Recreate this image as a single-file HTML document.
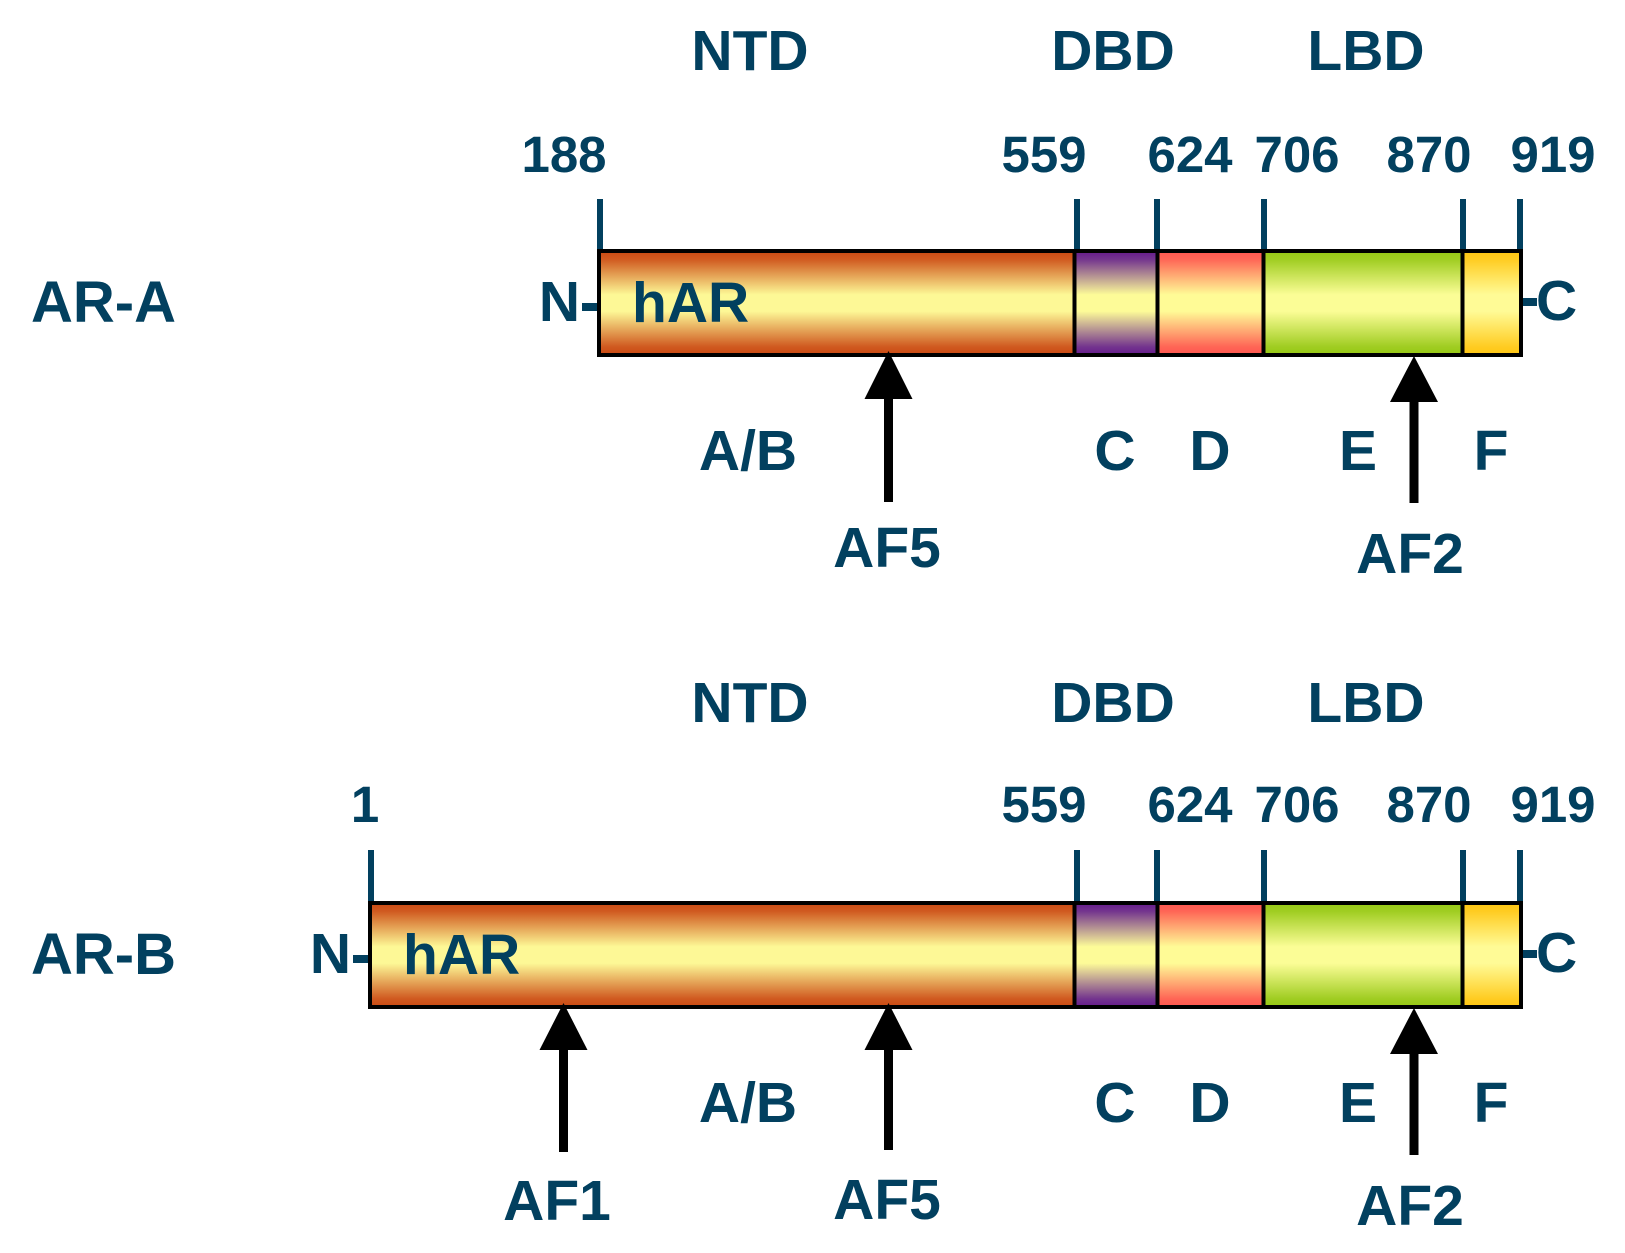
<!DOCTYPE html>
<html>
<head>
<meta charset="utf-8">
<style>
  html,body{margin:0;padding:0;background:#fff;}
  svg{display:block;}
  text{font-family:"Liberation Sans",Arial,sans-serif;font-weight:bold;fill:#02405F;}
</style>
</head>
<body>
<svg width="1625" height="1253" viewBox="0 0 1625 1253" xmlns="http://www.w3.org/2000/svg">
  <defs>
    <linearGradient id="gN" x1="0" y1="0" x2="0" y2="1">
      <stop offset="0" stop-color="#C94812"/>
      <stop offset="0.08" stop-color="#D05A20"/>
      <stop offset="0.42" stop-color="#FDF896"/>
      <stop offset="0.58" stop-color="#FDF896"/>
      <stop offset="0.92" stop-color="#D05A20"/>
      <stop offset="1" stop-color="#C94812"/>
    </linearGradient>
    <linearGradient id="gC" x1="0" y1="0" x2="0" y2="1">
      <stop offset="0" stop-color="#651A8C"/>
      <stop offset="0.08" stop-color="#74358E"/>
      <stop offset="0.42" stop-color="#FDFB98"/>
      <stop offset="0.58" stop-color="#FDFB98"/>
      <stop offset="0.92" stop-color="#74358E"/>
      <stop offset="1" stop-color="#651A8C"/>
    </linearGradient>
    <linearGradient id="gD" x1="0" y1="0" x2="0" y2="1">
      <stop offset="0" stop-color="#FF5650"/>
      <stop offset="0.08" stop-color="#FF6656"/>
      <stop offset="0.42" stop-color="#FFFB96"/>
      <stop offset="0.58" stop-color="#FFFB96"/>
      <stop offset="0.92" stop-color="#FF6656"/>
      <stop offset="1" stop-color="#FF5650"/>
    </linearGradient>
    <linearGradient id="gE" x1="0" y1="0" x2="0" y2="1">
      <stop offset="0" stop-color="#96C814"/>
      <stop offset="0.08" stop-color="#A0CD22"/>
      <stop offset="0.42" stop-color="#FBFD96"/>
      <stop offset="0.58" stop-color="#FBFD96"/>
      <stop offset="0.92" stop-color="#A0CD22"/>
      <stop offset="1" stop-color="#96C814"/>
    </linearGradient>
    <linearGradient id="gF" x1="0" y1="0" x2="0" y2="1">
      <stop offset="0" stop-color="#FFC612"/>
      <stop offset="0.08" stop-color="#FFCC22"/>
      <stop offset="0.42" stop-color="#FFFB96"/>
      <stop offset="0.58" stop-color="#FFFB96"/>
      <stop offset="0.92" stop-color="#FFCC22"/>
      <stop offset="1" stop-color="#FFC612"/>
    </linearGradient>
  </defs>

  <!-- ================= AR-A ================= -->
  <g>
    <text x="750" y="70" font-size="57" text-anchor="middle">NTD</text>
    <text x="1113" y="70" font-size="57" text-anchor="middle">DBD</text>
    <text x="1366" y="70" font-size="57" text-anchor="middle">LBD</text>

    <text x="564" y="172" font-size="51" text-anchor="middle">188</text>
    <text x="1044" y="172" font-size="51" text-anchor="middle">559</text>
    <text x="1190" y="172" font-size="51" text-anchor="middle">624</text>
    <text x="1297" y="172" font-size="51" text-anchor="middle">706</text>
    <text x="1429" y="172" font-size="51" text-anchor="middle">870</text>
    <text x="1553" y="172" font-size="51" text-anchor="middle">919</text>

    <g fill="#02405F">
      <rect x="597" y="199" width="6" height="52"/>
      <rect x="1074" y="199" width="6" height="52"/>
      <rect x="1154" y="199" width="6" height="52"/>
      <rect x="1261" y="199" width="6" height="52"/>
      <rect x="1460" y="199" width="6" height="52"/>
      <rect x="1517" y="199" width="6" height="52"/>
    </g>

    <rect x="599" y="251" width="476" height="104" fill="url(#gN)"/>
    <rect x="1074.5" y="251" width="83" height="104" fill="url(#gC)"/>
    <rect x="1157.5" y="251" width="106" height="104" fill="url(#gD)"/>
    <rect x="1263.5" y="251" width="199" height="104" fill="url(#gE)"/>
    <rect x="1462.5" y="251" width="58.5" height="104" fill="url(#gF)"/>
    <rect x="599" y="251" width="922" height="104" fill="none" stroke="#000" stroke-width="4"/>
    <g stroke="#000" stroke-width="4">
      <line x1="1074.5" y1="251" x2="1074.5" y2="355"/>
      <line x1="1157.5" y1="251" x2="1157.5" y2="355"/>
      <line x1="1263.5" y1="251" x2="1263.5" y2="355"/>
      <line x1="1462.5" y1="251" x2="1462.5" y2="355"/>
    </g>

    <text x="31" y="322" font-size="58">AR-A</text>
    <text x="580" y="321" font-size="57" text-anchor="end">N</text>
    <rect x="582" y="303" width="15" height="8" fill="#02405F"/>
    <text x="632" y="322" font-size="57">hAR</text>
    <rect x="1523" y="298" width="14" height="8" fill="#02405F"/>
    <text x="1536" y="320" font-size="57">C</text>

    <text x="748" y="470" font-size="57" text-anchor="middle">A/B</text>
    <text x="1115" y="470" font-size="57" text-anchor="middle">C</text>
    <text x="1210" y="470" font-size="57" text-anchor="middle">D</text>
    <text x="1358" y="470" font-size="57" text-anchor="middle">E</text>
    <text x="1491" y="470" font-size="57" text-anchor="middle">F</text>

    <polygon points="888.5,351 864.5,399 912.5,399" fill="#000"/>
    <rect x="884" y="398" width="9" height="104" fill="#000"/>
    <polygon points="1414,356 1390,402 1438,402" fill="#000"/>
    <rect x="1409.5" y="401" width="9" height="102" fill="#000"/>

    <text x="887" y="567" font-size="57" text-anchor="middle">AF5</text>
    <text x="1410" y="573" font-size="57" text-anchor="middle">AF2</text>
  </g>

  <!-- ================= AR-B ================= -->
  <g>
    <text x="750" y="722" font-size="57" text-anchor="middle">NTD</text>
    <text x="1113" y="722" font-size="57" text-anchor="middle">DBD</text>
    <text x="1366" y="722" font-size="57" text-anchor="middle">LBD</text>

    <text x="365" y="822" font-size="51" text-anchor="middle">1</text>
    <text x="1044" y="822" font-size="51" text-anchor="middle">559</text>
    <text x="1190" y="822" font-size="51" text-anchor="middle">624</text>
    <text x="1297" y="822" font-size="51" text-anchor="middle">706</text>
    <text x="1429" y="822" font-size="51" text-anchor="middle">870</text>
    <text x="1553" y="822" font-size="51" text-anchor="middle">919</text>

    <g fill="#02405F">
      <rect x="368" y="850" width="6" height="53"/>
      <rect x="1074" y="850" width="6" height="53"/>
      <rect x="1154" y="850" width="6" height="53"/>
      <rect x="1261" y="850" width="6" height="53"/>
      <rect x="1460" y="850" width="6" height="53"/>
      <rect x="1517" y="850" width="6" height="53"/>
    </g>

    <rect x="370" y="903" width="705" height="104" fill="url(#gN)"/>
    <rect x="1074.5" y="903" width="83" height="104" fill="url(#gC)"/>
    <rect x="1157.5" y="903" width="106" height="104" fill="url(#gD)"/>
    <rect x="1263.5" y="903" width="199" height="104" fill="url(#gE)"/>
    <rect x="1462.5" y="903" width="58.5" height="104" fill="url(#gF)"/>
    <rect x="370" y="903" width="1151" height="104" fill="none" stroke="#000" stroke-width="4"/>
    <g stroke="#000" stroke-width="4">
      <line x1="1074.5" y1="903" x2="1074.5" y2="1007"/>
      <line x1="1157.5" y1="903" x2="1157.5" y2="1007"/>
      <line x1="1263.5" y1="903" x2="1263.5" y2="1007"/>
      <line x1="1462.5" y1="903" x2="1462.5" y2="1007"/>
    </g>

    <text x="31" y="974" font-size="58">AR-B</text>
    <text x="351" y="973" font-size="57" text-anchor="end">N</text>
    <rect x="353" y="955" width="15" height="8" fill="#02405F"/>
    <text x="403" y="974" font-size="57">hAR</text>
    <rect x="1523" y="950" width="14" height="8" fill="#02405F"/>
    <text x="1536" y="972" font-size="57">C</text>

    <text x="748" y="1122" font-size="57" text-anchor="middle">A/B</text>
    <text x="1115" y="1122" font-size="57" text-anchor="middle">C</text>
    <text x="1210" y="1122" font-size="57" text-anchor="middle">D</text>
    <text x="1358" y="1122" font-size="57" text-anchor="middle">E</text>
    <text x="1491" y="1122" font-size="57" text-anchor="middle">F</text>

    <polygon points="563.5,1003 539.5,1050 587.5,1050" fill="#000"/>
    <rect x="559" y="1049" width="9" height="103" fill="#000"/>
    <polygon points="888.5,1003 864.5,1050 912.5,1050" fill="#000"/>
    <rect x="884" y="1049" width="9" height="101" fill="#000"/>
    <polygon points="1414,1008 1390,1054 1438,1054" fill="#000"/>
    <rect x="1409.5" y="1053" width="9" height="102" fill="#000"/>

    <text x="557" y="1220" font-size="57" text-anchor="middle">AF1</text>
    <text x="887" y="1219" font-size="57" text-anchor="middle">AF5</text>
    <text x="1410" y="1225" font-size="57" text-anchor="middle">AF2</text>
  </g>
</svg>
</body>
</html>
